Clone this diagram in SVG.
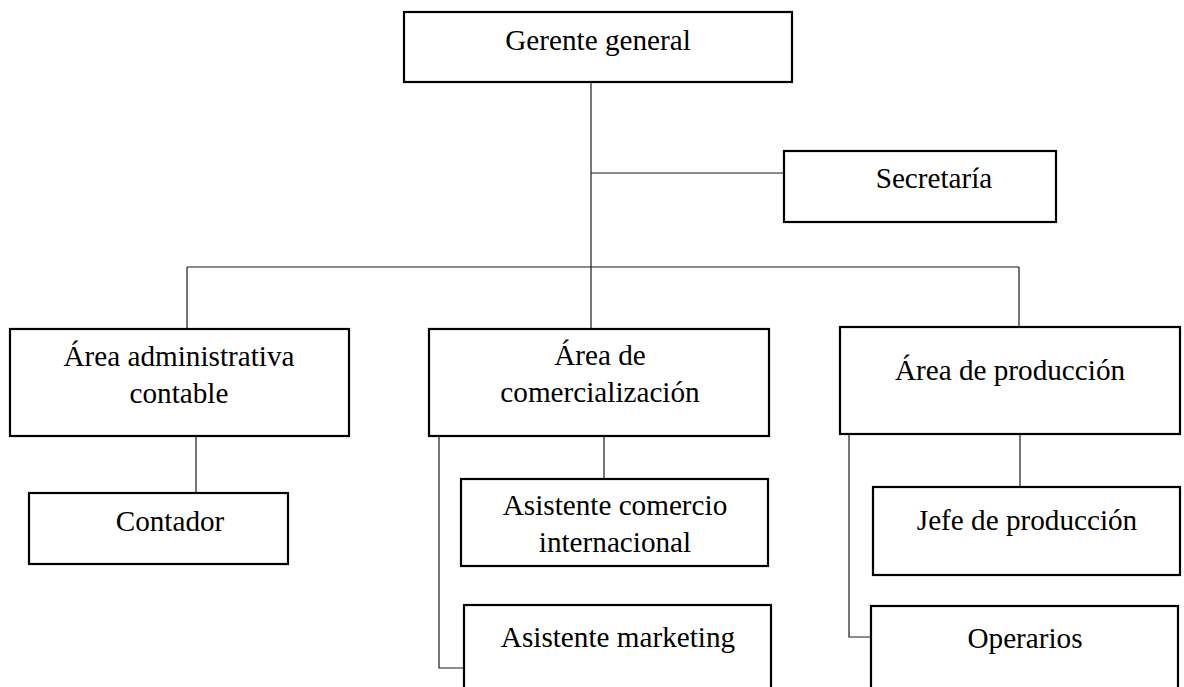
<svg xmlns="http://www.w3.org/2000/svg" width="1184" height="687" viewBox="0 0 1184 687">
  <style>
    .box { fill: #ffffff; stroke: #000000; stroke-width: 2.2; }
    .lbl { font-family: "Liberation Serif", "Times New Roman", serif; font-size: 29.2px; fill: #000000; text-anchor: middle; }
    .link { fill: none; stroke: #1a1a1a; stroke-width: 1.2; }
  </style>
  <rect width="1184" height="687" fill="#ffffff"/>

  <!-- connectors -->
  <g id="connectors">
    <line class="link" x1="591" y1="82" x2="591" y2="328"/>
    <line class="link" x1="591" y1="173" x2="783" y2="173"/>
    <line class="link" x1="187" y1="267" x2="1019" y2="267"/>
    <line class="link" x1="187" y1="267" x2="187" y2="328"/>
    <line class="link" x1="1019" y1="267" x2="1019" y2="327"/>
    <line class="link" x1="196" y1="437" x2="196" y2="492"/>
    <line class="link" x1="604" y1="437" x2="604" y2="485"/>
    <polyline class="link" points="439,437 439,668 463,668"/>
    <line class="link" x1="1020" y1="435" x2="1020" y2="486"/>
    <polyline class="link" points="849,435 849,637 870,637"/>
  </g>

  <g id="gerente">
    <rect class="box" x="404" y="12" width="388" height="70"/>
    <text class="lbl" x="598" y="50">Gerente general</text>
  </g>

  <g id="secretaria">
    <rect class="box" x="784" y="151" width="272" height="71"/>
    <text class="lbl" x="934" y="188">Secretaría</text>
  </g>

  <g id="area-administrativa">
    <rect class="box" x="10" y="329" width="339" height="107"/>
    <text class="lbl" x="179" y="366">Área administrativa</text>
    <text class="lbl" x="179" y="403">contable</text>
  </g>

  <g id="area-comercializacion">
    <rect class="box" x="429" y="329" width="340" height="107"/>
    <text class="lbl" x="600" y="365">Área de</text>
    <text class="lbl" x="600" y="402">comercialización</text>
  </g>

  <g id="area-produccion">
    <rect class="box" x="840" y="327" width="340" height="107"/>
    <text class="lbl" x="1010" y="380">Área de producción</text>
  </g>

  <g id="contador">
    <rect class="box" x="29" y="493" width="259" height="71"/>
    <text class="lbl" x="170" y="531">Contador</text>
  </g>

  <g id="asistente-comercio">
    <rect class="box" x="461" y="479" width="307" height="87"/>
    <text class="lbl" x="615" y="515">Asistente comercio</text>
    <text class="lbl" x="615" y="552">internacional</text>
  </g>

  <g id="asistente-marketing">
    <rect class="box" x="464" y="605" width="307" height="100"/>
    <text class="lbl" x="618" y="647">Asistente marketing</text>
  </g>

  <g id="jefe-produccion">
    <rect class="box" x="873" y="487" width="307" height="88"/>
    <text class="lbl" x="1027" y="530">Jefe de producción</text>
  </g>

  <g id="operarios">
    <rect class="box" x="871" y="606" width="307" height="100"/>
    <text class="lbl" x="1025" y="648">Operarios</text>
  </g>
</svg>
